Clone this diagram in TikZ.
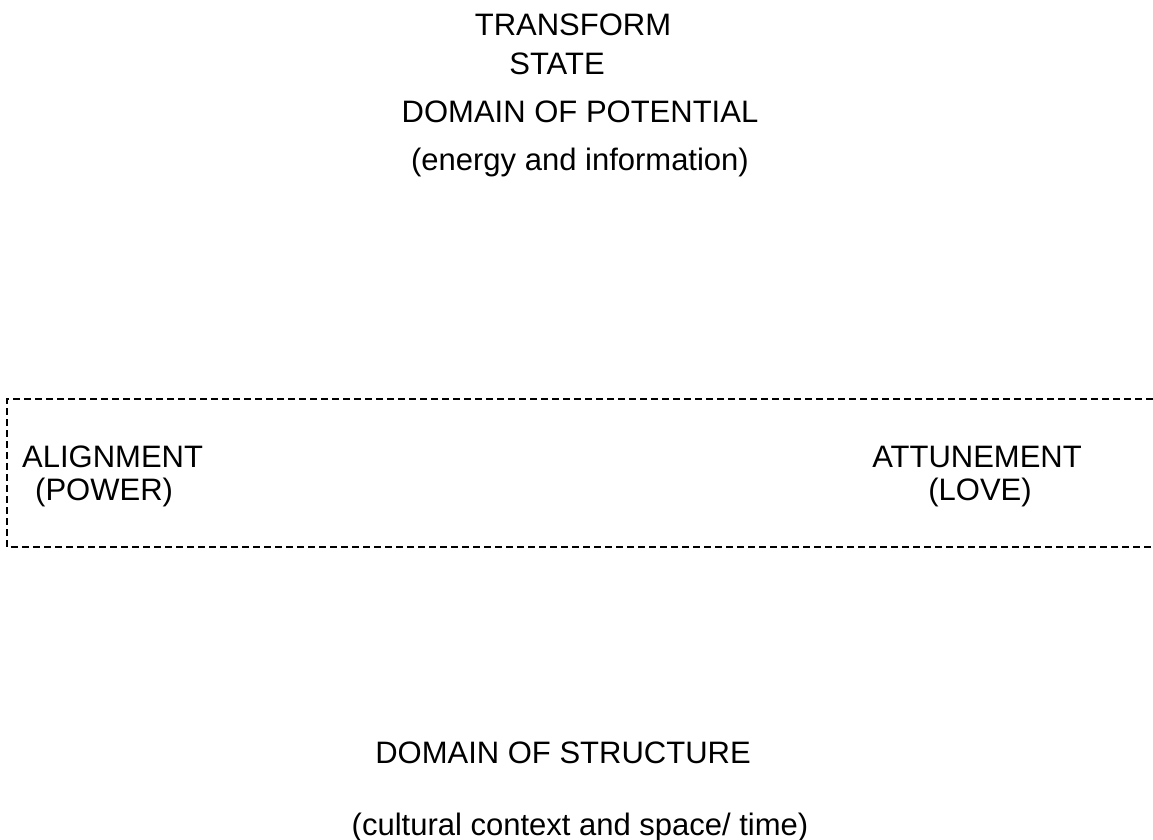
\documentclass[tikz,border=0pt]{standalone}
\usepackage{fontspec}
\setmainfont{Liberation Sans}
\begin{document}
\begin{tikzpicture}[x=1pt, y=-1pt,
  txt/.style={inner sep=0pt, anchor=base, font=\fontsize{31}{37}\selectfont},
  band/.style={line width=2pt, dash pattern=on 7pt off 4pt}]

\useasboundingbox (0, 0) rectangle (1153, 840);

\node[txt] (transform) at (573, 36) {TRANSFORM};
\node[txt] (state) at (557, 75) {STATE};
\node[txt] (potential) at (580, 122) {DOMAIN OF POTENTIAL};
\node[txt] (energy) at (580, 170) {(energy and information)};

\draw[band] (1153, 399) -- (7, 399) -- (7, 547) -- (1153, 547);

\node[txt, anchor=base west] (alignment) at (22, 467) {ALIGNMENT};
\node[txt, anchor=base west] (power) at (35, 500) {(POWER)};
\node[txt, anchor=base east] (attunement) at (1082, 467) {ATTUNEMENT};
\node[txt] (love) at (980, 500) {(LOVE)};

\node[txt] (structure) at (563, 763) {DOMAIN OF STRUCTURE};
\node[txt] (context) at (580, 835) {(cultural context and space/ time)};

\end{tikzpicture}
\end{document}
